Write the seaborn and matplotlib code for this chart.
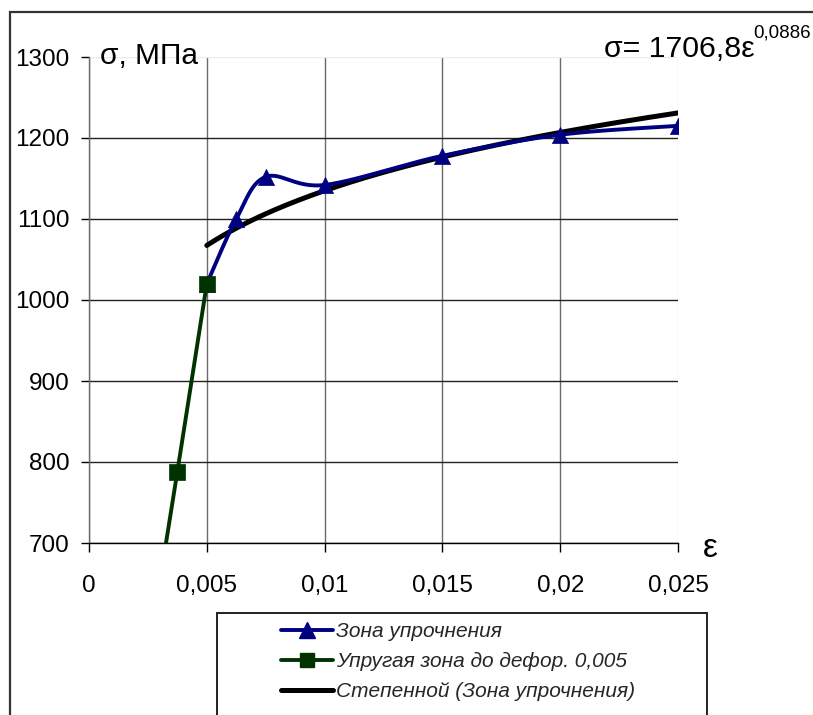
import numpy as np
import pandas as pd
import matplotlib
matplotlib.use("Agg")
import matplotlib.pyplot as plt
from matplotlib.lines import Line2D
from matplotlib.patches import Rectangle
import seaborn as sns

# Hardening zone (true stress-strain points)
eps_hard = [0.005, 0.00625, 0.0075, 0.01, 0.015, 0.02, 0.025]
sig_hard = [1020, 1100, 1152, 1142, 1178, 1204, 1215]

# Elastic zone up to strain 0.005
eps_el = [0.0025, 0.00375, 0.005]
sig_el = [560, 788, 1020]

# Power-law trend: sigma = A * eps^n
coef_a = 1706.8
coef_n = 0.0886

x_ticks = [0, 0.005, 0.01, 0.015, 0.02, 0.025]
x_tick_labels = ["0", "0,005", "0,01", "0,015", "0,02", "0,025"]
y_ticks = [700, 800, 900, 1000, 1100, 1200, 1300]

label_hard = "Зона упрочнения"
label_el = "Упругая зона до дефор. 0,005"
label_fit = "Степенной (Зона упрочнения)"

BLUE = "#000080"
GREEN = "#003300"

W, H = 813, 715


def catmull_rom(xs, ys, n=40):
    """Smooth curve through points (cubic Bezier with Catmull-Rom tangents)."""
    p = np.column_stack([xs, ys]).astype(float)
    p = np.vstack([p[0], p, p[-1]])
    out = []
    t = np.linspace(0, 1, n)[:, None]
    for i in range(1, len(p) - 2):
        p0, p1, p2, p3 = p[i - 1], p[i], p[i + 1], p[i + 2]
        c1 = p1 + (p2 - p0) / 6.0
        c2 = p2 - (p3 - p1) / 6.0
        seg = ((1 - t) ** 3) * p1 + 3 * ((1 - t) ** 2) * t * c1 \
            + 3 * (1 - t) * t ** 2 * c2 + t ** 3 * p2
        out.append(seg if i == 1 else seg[1:])
    return np.vstack(out)


def fx(px):
    return px / W


def fy(py):
    return 1 - py / H


sns.set_theme(style="white")
plt.rcParams["font.family"] = ["Liberation Sans", "DejaVu Sans"]

fig = plt.figure(figsize=(W / 100, H / 100), dpi=100)
fig.patch.set_facecolor("white")
ax = fig.add_axes([fx(89), fy(543), (678 - 89) / W, (543 - 57) / H])
ax.set_facecolor("white")

# power-law trendline
eps_fit = np.linspace(eps_hard[0], eps_hard[-1], 200)
fit_df = pd.DataFrame({"eps": eps_fit, "sig": coef_a * eps_fit ** coef_n})
sns.lineplot(data=fit_df, x="eps", y="sig", ax=ax, color="black", lw=3.6,
             sort=False, estimator=None, zorder=3, legend=False)

# smoothed hardening curve + markers
smooth = catmull_rom(eps_hard, sig_hard)
hard_curve = pd.DataFrame({"eps": smooth[:, 0], "sig": smooth[:, 1]})
sns.lineplot(data=hard_curve, x="eps", y="sig", ax=ax, color=BLUE, lw=2.8,
             sort=False, estimator=None, zorder=4, legend=False)
hard_df = pd.DataFrame({"eps": eps_hard, "sig": sig_hard})
sns.scatterplot(data=hard_df, x="eps", y="sig", ax=ax, marker="^", s=135,
                color=BLUE, edgecolor=BLUE, linewidth=0.5, zorder=5, legend=False)

# elastic segment
el_df = pd.DataFrame({"eps": eps_el, "sig": sig_el})
sns.lineplot(data=el_df, x="eps", y="sig", ax=ax, color=GREEN, lw=2.8,
             sort=False, estimator=None, zorder=6, legend=False)
sns.scatterplot(data=el_df, x="eps", y="sig", ax=ax, marker="s", s=125,
                color=GREEN, edgecolor=GREEN, linewidth=0.5, zorder=7, legend=False)

ax.set_xlim(0, 0.025)
ax.set_ylim(700, 1300)
ax.set_xticks(x_ticks)
ax.set_xticklabels(x_tick_labels)
ax.set_yticks(y_ticks)
ax.set_yticklabels([str(v) for v in y_ticks])
ax.set_xlabel("")
ax.set_ylabel("")

ax.grid(True)
for g in ax.get_xgridlines():
    g.set_color("#6a6a6a")
    g.set_linewidth(1.0)
for g in ax.get_ygridlines():
    g.set_color("#222222")
    g.set_linewidth(1.0)
ax.get_xgridlines()[-1].set_color("#e6e6e6")
ax.get_ygridlines()[-1].set_color("#ececec")
ax.set_axisbelow(True)

for side in ["top", "right"]:
    ax.spines[side].set_visible(False)
ax.spines["bottom"].set_color("black")
ax.spines["bottom"].set_linewidth(1.0)
ax.spines["left"].set_color("#6a6a6a")
ax.spines["left"].set_linewidth(1.0)

ax.tick_params(axis="y", direction="out", length=6, width=1, color="black",
               pad=8, labelsize=17.5, labelcolor="black", left=True)
ax.tick_params(axis="x", direction="out", length=6.5, width=1, color="black",
               pad=16.5, labelsize=17.5, labelcolor="black", bottom=True)

# axis captions and trend equation
fig.text(fx(100), fy(64), "σ, МПа", fontsize=21.5, color="black",
         ha="left", va="baseline")
fig.text(fx(703), fy(557), "ε", fontsize=24, color="black",
         ha="left", va="baseline")
fig.text(fx(604), fy(57), "σ= 1706,8ε", fontsize=21.8, color="black",
         ha="left", va="baseline")
fig.text(fx(753), fy(38), "0,0886", fontsize=13.5, color="black",
         ha="left", va="baseline")

# outer chart border
fig.patches.append(Rectangle((fx(10), -0.2), 1.2, fy(12) + 0.2,
                             transform=fig.transFigure, fill=False,
                             edgecolor="#333333", lw=1.6, zorder=0))
# legend frame
fig.patches.append(Rectangle((fx(217), -0.2), (707 - 217) / W, fy(613) + 0.2,
                             transform=fig.transFigure, fill=False,
                             edgecolor="#222222", lw=1.4, zorder=0))

handles = [
    Line2D([], [], color=BLUE, lw=2.8, marker="^", ms=11),
    Line2D([], [], color=GREEN, lw=2.8, marker="s", ms=10.5),
    Line2D([], [], color="black", lw=3.6),
]
leg = fig.legend(handles, [label_hard, label_el, label_fit],
                 loc="upper left", bbox_to_anchor=(fx(281), fy(622)),
                 bbox_transform=fig.transFigure, frameon=False,
                 borderpad=0, borderaxespad=0, handlelength=2.5,
                 handletextpad=0.15, labelspacing=0.53,
                 prop={"size": 15, "style": "italic",
                       "family": ["Liberation Sans", "DejaVu Sans"]})

fig.savefig("out.png", dpi=100, facecolor="white")
